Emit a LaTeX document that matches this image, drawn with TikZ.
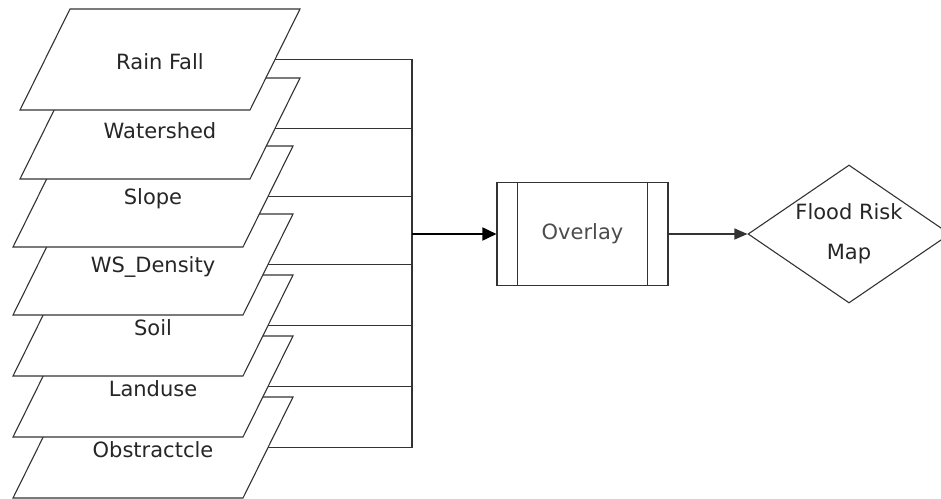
\documentclass[tikz,border=0pt]{standalone}
\usepackage{fontspec}
\setmainfont{DejaVu Sans}
\usetikzlibrary{shapes.geometric,arrows.meta,positioning,calc}

\tikzset{
    layer/.style={draw=black!80, fill=white, line width=1.1pt},
    link/.style={draw=black!80, line width=1.1pt},
    lbl/.style={text=black!85, font=\fontsize{21}{24}\selectfont},
}

\begin{document}
\begin{tikzpicture}[x=1pt, y=-1pt]
    \useasboundingbox (0,0) rectangle (941,498);

    % Map layers, bottom one first so each layer covers the one below
    \foreach \n/\t/\d/\txt in {7/397/-7/Obstractcle, 6/336/-7/Landuse, 5/275/-7/Soil,
        4/214/-7/WS\_Density, 3/146/-7/Slope, 2/78/0/Watershed, 1/9/0/Rain Fall} {
        \filldraw[layer] (70+\d,\t) -- (300+\d,\t) -- (250+\d,\t+101) -- (20+\d,\t+101) -- cycle;
        \node[lbl] (l\n) at (160+\d,\t+53) {\txt};
        \coordinate (e\n) at (275+\d,\t+50.5);
    }

    % Collecting bus
    \coordinate (bus) at (412,234);
    \draw[link] (e1) -- (e1 -| bus) -- (e7 -| bus) -- (e7);
    \foreach \n in {2,...,6}
        \draw[link] (e\n) -- (e\n -| bus);

    % Overlay process
    \node[draw=black!80, line width=1.1pt, minimum width=171pt, minimum height=103pt,
        lbl, text=black!70] (ov) at (582.5,234) {Overlay};
    \draw[link] ([xshift=21pt]ov.north west) -- ([xshift=21pt]ov.south west);
    \draw[link] ([xshift=-21pt]ov.north east) -- ([xshift=-21pt]ov.south east);

    % Result
    \node[diamond, draw=black!80, line width=1.1pt, aspect=1.46, inner sep=0pt,
        minimum width=202pt, minimum height=138pt, lbl, align=center,
        font=\fontsize{21}{40}\selectfont] (map) at (849,234) {\raisebox{-5pt}{Flood Risk}\\\raisebox{-5pt}{Map}};

    \draw[-{Triangle[length=14pt,width=13pt]}, line width=1.8pt] (bus) -- (ov);
    \draw[link, -{Triangle[length=13pt,width=11pt]}] (ov) -- (map);
\end{tikzpicture}
\end{document}
